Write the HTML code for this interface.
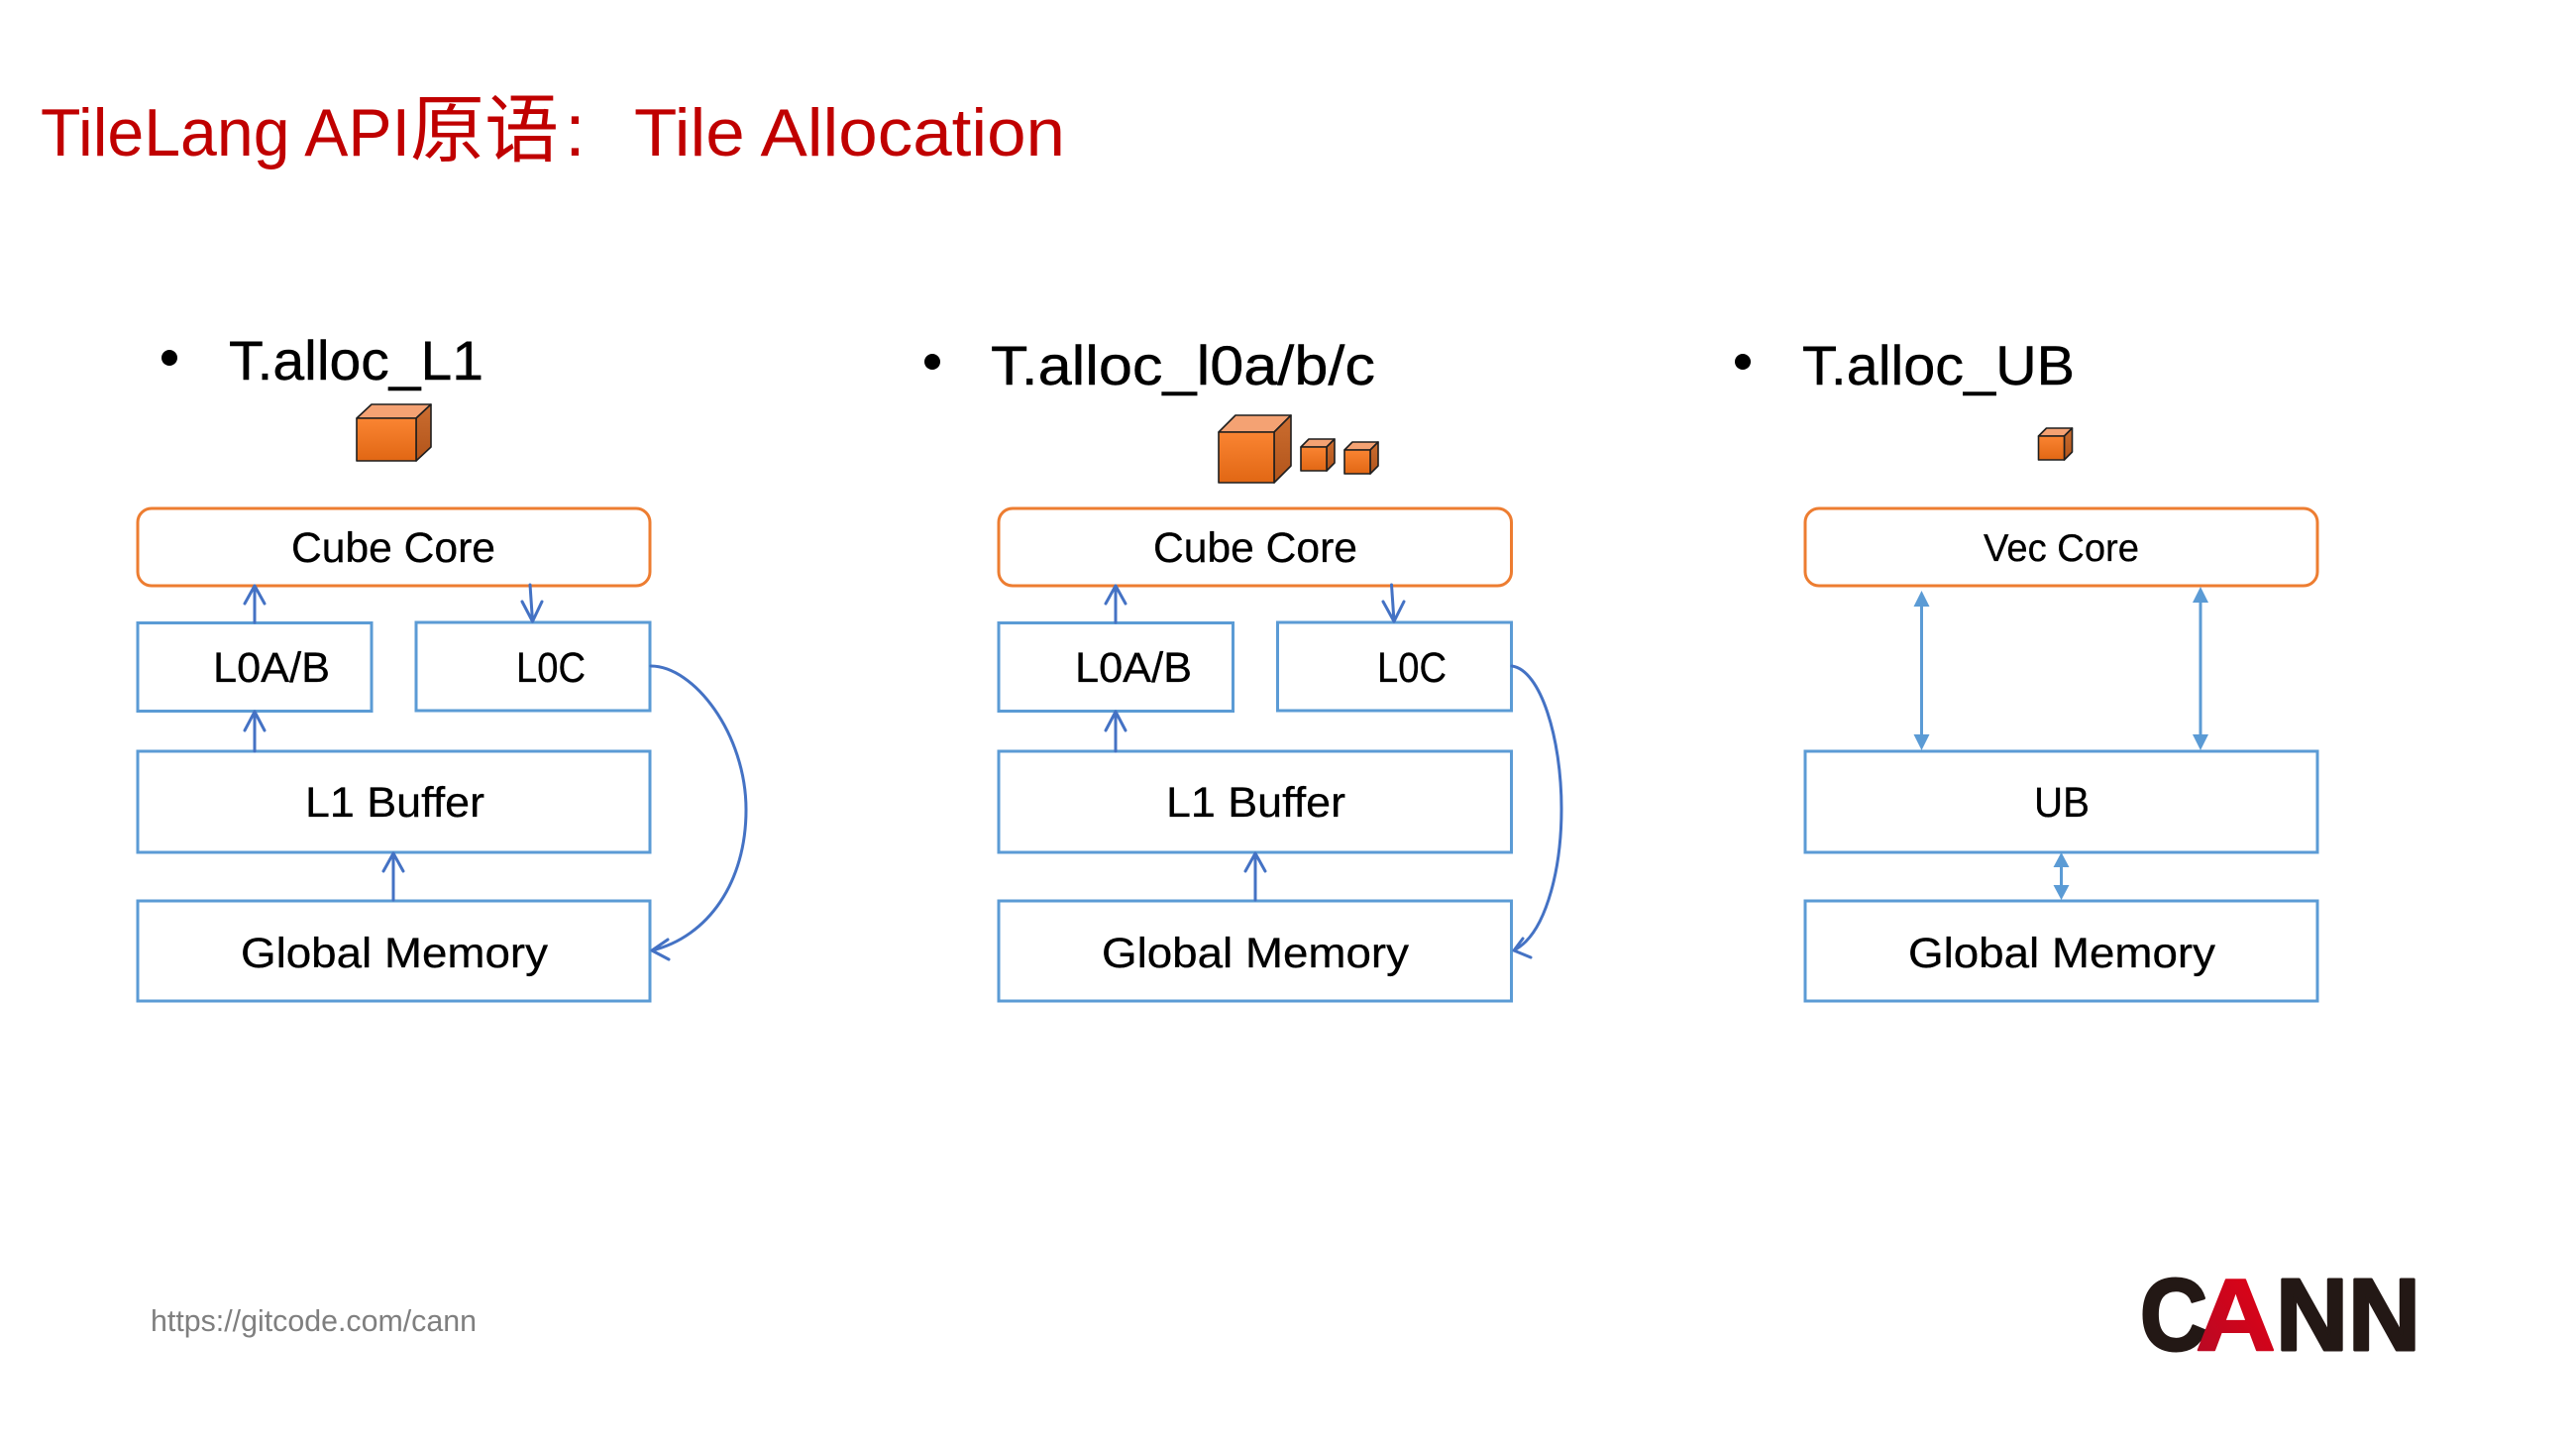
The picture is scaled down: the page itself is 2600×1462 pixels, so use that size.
<!DOCTYPE html>
<html lang="en">
<head>
<meta charset="utf-8">
<title>TileLang API原语:Tile Allocation</title>
<style>
html,body{margin:0;padding:0;background:#fff;}
svg{display:block;}
text{font-family:"Liberation Sans","Noto Sans CJK SC",sans-serif;fill:#000;}
.box{fill:#fff;stroke:#5b9bd5;stroke-width:3;}
.core{fill:#fff;stroke:#ed7d31;stroke-width:3;}
.ln{fill:none;stroke:#4472c4;stroke-width:3;stroke-linecap:round;stroke-linejoin:round;}
.bi{fill:none;stroke:#5b9bd5;stroke-width:3;}
.tri{fill:#5b9bd5;}
.lbl{font-size:43px;stroke:#000;stroke-width:.3;}
.hd{font-size:56px;stroke:#000;stroke-width:.4;}
.front{fill:url(#gf);stroke:#1f1f1f;stroke-width:1.6;stroke-linejoin:round;}
.top{fill:#f4a273;stroke:#1f1f1f;stroke-width:1.6;stroke-linejoin:round;}
.side{fill:url(#gs);stroke:#1f1f1f;stroke-width:1.6;stroke-linejoin:round;}
</style>
</head>
<body>
<svg xmlns="http://www.w3.org/2000/svg" width="2600" height="1462" viewBox="0 0 2600 1462">
<defs>
<linearGradient id="gf" x1="0" y1="0" x2="0" y2="1"><stop offset="0" stop-color="#fa8432"/><stop offset="1" stop-color="#e16714"/></linearGradient>
<linearGradient id="gs" x1="0" y1="0" x2="0" y2="1"><stop offset="0" stop-color="#cb6d30"/><stop offset="1" stop-color="#b2541a"/></linearGradient>
<linearGradient id="ga" x1="0" y1="1" x2="1" y2="0"><stop offset="0" stop-color="#b40a26"/><stop offset="1" stop-color="#e60012"/></linearGradient>
</defs>

<!-- Title -->
<text x="41" y="157" font-size="68" style="fill:#c00000" textLength="373" lengthAdjust="spacingAndGlyphs">TileLang API</text>
<text x="414" y="157" font-size="75" style="fill:#c00000">原语</text>
<text x="570" y="157" font-size="75" style="fill:#c00000">:</text>
<text x="640" y="157" font-size="68" style="fill:#c00000" textLength="435" lengthAdjust="spacingAndGlyphs">Tile Allocation</text>

<!-- Headings -->
<circle cx="171" cy="361" r="8" fill="#000"/>
<text class="hd" x="231" y="383" textLength="257" lengthAdjust="spacingAndGlyphs">T.alloc_L1</text>
<circle cx="941" cy="365" r="8" fill="#000"/>
<text class="hd" x="1000" y="388" textLength="388" lengthAdjust="spacingAndGlyphs">T.alloc_l0a/b/c</text>
<circle cx="1759" cy="365" r="8" fill="#000"/>
<text class="hd" x="1819" y="388" textLength="275" lengthAdjust="spacingAndGlyphs">T.alloc_UB</text>

<!-- Cubes -->
<g>
<polygon class="top" points="360,422 375,408 435,408 420,422"/>
<polygon class="side" points="420,422 435,408 435,451 420,465"/>
<rect class="front" x="360" y="422" width="60" height="43"/>
</g>
<g>
<polygon class="top" points="1230,436 1247,419 1303,419 1286,436"/>
<polygon class="side" points="1286,436 1303,419 1303,470 1286,487"/>
<rect class="front" x="1230" y="436" width="56" height="51"/>
</g>
<g>
<polygon class="top" points="1313,451 1321,443 1347,443 1339,451"/>
<polygon class="side" points="1339,451 1347,443 1347,467 1339,475"/>
<rect class="front" x="1313" y="451" width="26" height="24"/>
</g>
<g>
<polygon class="top" points="1357,454 1365,446 1391,446 1383,454"/>
<polygon class="side" points="1383,454 1391,446 1391,470 1383,478"/>
<rect class="front" x="1357" y="454" width="26" height="24"/>
</g>
<g>
<polygon class="top" points="2057.500,440 2065.500,432 2091.500,432 2083.500,440"/>
<polygon class="side" points="2083.500,440 2091.500,432 2091.500,456 2083.500,464"/>
<rect class="front" x="2057.500" y="440" width="26" height="24"/>
</g>

<!-- Panel 1 -->
<g>
<rect class="core" x="139" y="513" width="517" height="78" rx="14"/>
<rect class="box" x="139" y="628.500" width="236" height="89"/>
<rect class="box" x="420" y="628" width="236" height="89"/>
<rect class="box" x="139" y="758" width="517" height="102"/>
<rect class="box" x="139" y="909" width="517" height="101"/>
<text class="lbl" x="294" y="567" textLength="206" lengthAdjust="spacingAndGlyphs">Cube Core</text>
<text class="lbl" x="215" y="688" textLength="118" lengthAdjust="spacingAndGlyphs">L0A/B</text>
<text class="lbl" x="521" y="688" textLength="70" lengthAdjust="spacingAndGlyphs">L0C</text>
<text class="lbl" x="308" y="824" textLength="181" lengthAdjust="spacingAndGlyphs">L1 Buffer</text>
<text class="lbl" x="243" y="976" textLength="310" lengthAdjust="spacingAndGlyphs">Global Memory</text>
<path class="ln" d="M257 628V591M247 609L257 591L267 609"/>
<path class="ln" d="M257 758V718M247 737L257 718L267 737"/>
<path class="ln" d="M535 590L537.500 627M527 607L537.500 627L547 607"/>
<path class="ln" d="M397 908V861M387 879L397 861L407 879"/>
<path class="ln" d="M657 672C700 672 753 740 753 817C753 890 715 945 658 959M674 948L658 959L675 968"/>
</g>

<!-- Panel 2 -->
<g>
<rect class="core" x="1008" y="513" width="517.500" height="78" rx="14"/>
<rect class="box" x="1008" y="628.500" width="236.500" height="89"/>
<rect class="box" x="1289.500" y="628" width="236" height="89"/>
<rect class="box" x="1008" y="758" width="517.500" height="102"/>
<rect class="box" x="1008" y="909" width="517.500" height="101"/>
<text class="lbl" x="1164" y="567" textLength="206" lengthAdjust="spacingAndGlyphs">Cube Core</text>
<text class="lbl" x="1085" y="688" textLength="118" lengthAdjust="spacingAndGlyphs">L0A/B</text>
<text class="lbl" x="1390" y="688" textLength="70" lengthAdjust="spacingAndGlyphs">L0C</text>
<text class="lbl" x="1177" y="824" textLength="181" lengthAdjust="spacingAndGlyphs">L1 Buffer</text>
<text class="lbl" x="1112" y="976" textLength="310" lengthAdjust="spacingAndGlyphs">Global Memory</text>
<path class="ln" d="M1126 628V591M1116 609L1126 591L1136 609"/>
<path class="ln" d="M1126 758V718M1116 737L1126 718L1136 737"/>
<path class="ln" d="M1404.500 590L1407 627M1396 607L1407 627L1417 607"/>
<path class="ln" d="M1267 908V861M1257 879L1267 861L1277 879"/>
<path class="ln" d="M1526 672C1555 676 1576 745 1576 816C1576 880 1560 930 1540 950Q1535 955 1528 959M1537 947L1528 959L1545 966"/>
</g>

<!-- Panel 3 -->
<g>
<rect class="core" x="1822" y="513" width="517" height="78" rx="14"/>
<rect class="box" x="1822" y="758" width="517" height="102"/>
<rect class="box" x="1822" y="909" width="517" height="101"/>
<text class="lbl" x="2002" y="566" style="font-size:39px" textLength="157" lengthAdjust="spacingAndGlyphs">Vec Core</text>
<text class="lbl" x="2053" y="824" textLength="56" lengthAdjust="spacingAndGlyphs">UB</text>
<text class="lbl" x="1926" y="976" textLength="310" lengthAdjust="spacingAndGlyphs">Global Memory</text>
<path class="bi" d="M1939.500 610V742"/>
<polygon class="tri" points="1939.500,596 1947.500,612 1931.500,612"/>
<polygon class="tri" points="1939.500,757 1947.500,741 1931.500,741"/>
<path class="bi" d="M2221 606V742"/>
<polygon class="tri" points="2221,592 2229,608 2213,608"/>
<polygon class="tri" points="2221,757 2229,741 2213,741"/>
<path class="bi" d="M2080.500 872V896"/>
<polygon class="tri" points="2080.500,860 2088.500,875 2072.500,875"/>
<polygon class="tri" points="2080.500,908 2088.500,893 2072.500,893"/>
</g>

<!-- Footer -->
<text x="152" y="1343" font-size="31" style="fill:#7f7f7f" textLength="329" lengthAdjust="spacingAndGlyphs">https://gitcode.com/cann</text>

<!-- Logo -->
<g font-size="103" font-weight="bold" stroke-linejoin="round">
<text x="2160" y="1362" style="fill:#231815;stroke:#231815;stroke-width:3" textLength="68" lengthAdjust="spacingAndGlyphs">C</text>
<text x="2216" y="1362" style="fill:url(#ga);stroke:url(#ga);stroke-width:2" textLength="81" lengthAdjust="spacingAndGlyphs">A</text>
<text x="2297" y="1362" style="fill:#231815;stroke:#231815;stroke-width:3" textLength="73" lengthAdjust="spacingAndGlyphs">N</text>
<text x="2370" y="1362" style="fill:#231815;stroke:#231815;stroke-width:3" textLength="73" lengthAdjust="spacingAndGlyphs">N</text>
</g>
</svg>
</body>
</html>
